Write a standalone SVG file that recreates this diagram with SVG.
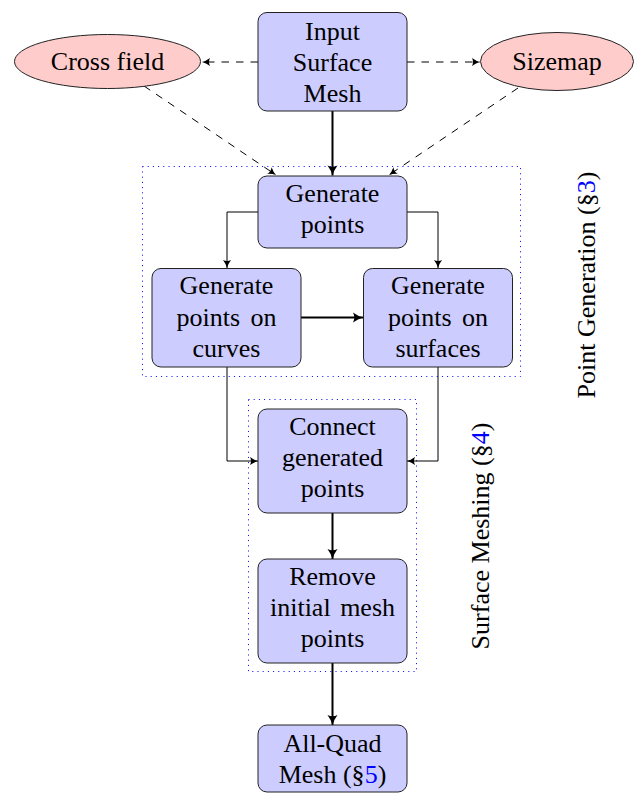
<svg xmlns="http://www.w3.org/2000/svg" width="636" height="794" viewBox="0 0 636 794">
<style>
text{font-family:"Liberation Serif","Times New Roman",serif;font-size:26px;fill:#000;text-anchor:middle}
.box{fill:#ccccff;stroke:#222;stroke-width:1}
.ell{fill:#ffcccc;stroke:#222;stroke-width:1}
.grp{fill:none;stroke:#0000ff;stroke-width:1;stroke-dasharray:1 4.2}
.thin{fill:none;stroke:#000;stroke-width:1}
.thick{fill:none;stroke:#000;stroke-width:2}
.dash{fill:none;stroke:#000;stroke-width:1;stroke-dasharray:7.5 7}
.ref{fill:#0000ff}
</style>
<defs>
<marker id="ah" markerUnits="userSpaceOnUse" markerWidth="12" markerHeight="12" viewBox="-10 -6 12 12" refX="0" refY="0" orient="auto">
<path d="M0,0 Q-4,-1 -8,-4 Q-6,0 -8,4 Q-4,1 0,0 Z" fill="#000"/>
</marker>
<marker id="ahT" markerUnits="userSpaceOnUse" markerWidth="14" markerHeight="14" viewBox="-12 -7 14 14" refX="0" refY="0" orient="auto">
<path d="M0,0 Q-5,-1.3 -10,-5 Q-7.5,0 -10,5 Q-5,1.3 0,0 Z" fill="#000"/>
</marker>
</defs>

<g id="group-point-generation">
<rect class="grp" x="142.5" y="166.5" width="378" height="210"/>
<text transform="rotate(-90 595 285)" x="595" y="285">Point Generation (§<tspan class="ref">3</tspan>)</text>
</g>
<g id="group-surface-meshing">
<rect class="grp" x="248.5" y="399.5" width="168" height="272"/>
<text transform="rotate(-90 489 536)" x="489" y="536">Surface Meshing (§<tspan class="ref">4</tspan>)</text>
</g>

<g id="connectors">
<line class="dash" x1="258" y1="62" x2="202" y2="62" marker-end="url(#ah)"/>
<line class="dash" x1="407" y1="62" x2="480" y2="62" marker-end="url(#ah)"/>
<line class="dash" x1="144" y1="86" x2="276" y2="175" marker-end="url(#ah)"/>
<line class="dash" x1="518" y1="88" x2="389" y2="175" marker-end="url(#ah)"/>
<line class="thick" x1="332.5" y1="111" x2="332.5" y2="175.5" marker-end="url(#ahT)"/>
<polyline class="thin" points="258,212 227,212 227,268" marker-end="url(#ah)"/>
<polyline class="thin" points="407,212 438,212 438,268" marker-end="url(#ah)"/>
<line class="thick" x1="301" y1="317.5" x2="363" y2="317.5" marker-end="url(#ahT)"/>
<polyline class="thin" points="227,367 227,461 258,461" marker-end="url(#ah)"/>
<polyline class="thin" points="438,367 438,461 407,461" marker-end="url(#ah)"/>
<line class="thick" x1="332.5" y1="513" x2="332.5" y2="559" marker-end="url(#ahT)"/>
<line class="thick" x1="332.5" y1="663" x2="332.5" y2="725" marker-end="url(#ahT)"/>
</g>

<g id="node-input">
<rect class="box" x="258" y="12.5" width="149" height="98.5" rx="9"/>
<text x="332.5" y="39.5">Input</text>
<text x="332.5" y="70.7">Surface</text>
<text x="332.5" y="101.7">Mesh</text>
</g>
<g id="node-crossfield">
<ellipse class="ell" cx="107.5" cy="61.5" rx="93" ry="27"/>
<text x="107.5" y="70">Cross field</text>
</g>
<g id="node-sizemap">
<ellipse class="ell" cx="557" cy="61.5" rx="76.5" ry="29"/>
<text x="557" y="70">Sizemap</text>
</g>
<g id="node-genpoints">
<rect class="box" x="258" y="176" width="149" height="72" rx="9"/>
<text x="332.5" y="201.7">Generate</text>
<text x="332.5" y="232.7">points</text>
</g>
<g id="node-curves">
<rect class="box" x="152" y="268.5" width="149" height="98.5" rx="9"/>
<text x="226.5" y="294.3">Generate</text>
<text x="226.5" y="325.7" word-spacing="4">points on</text>
<text x="226.5" y="356.7">curves</text>
</g>
<g id="node-surfaces">
<rect class="box" x="363.5" y="268.5" width="149" height="98.5" rx="9"/>
<text x="438" y="294.3">Generate</text>
<text x="438" y="325.7" word-spacing="4">points on</text>
<text x="438" y="356.7">surfaces</text>
</g>
<g id="node-connect">
<rect class="box" x="258" y="409" width="149" height="104" rx="9"/>
<text x="332.5" y="435">Connect</text>
<text x="332.5" y="466">generated</text>
<text x="332.5" y="497.3">points</text>
</g>
<g id="node-remove">
<rect class="box" x="258" y="559" width="149" height="104" rx="9"/>
<text x="332.5" y="585">Remove</text>
<text x="332.5" y="616" word-spacing="3">initial mesh</text>
<text x="332.5" y="647.3">points</text>
</g>
<g id="node-allquad">
<rect class="box" x="258" y="725" width="149" height="67" rx="9"/>
<text x="332.5" y="751.7">All-Quad</text>
<text x="332.5" y="783.3">Mesh (§<tspan class="ref">5</tspan>)</text>
</g>
</svg>
